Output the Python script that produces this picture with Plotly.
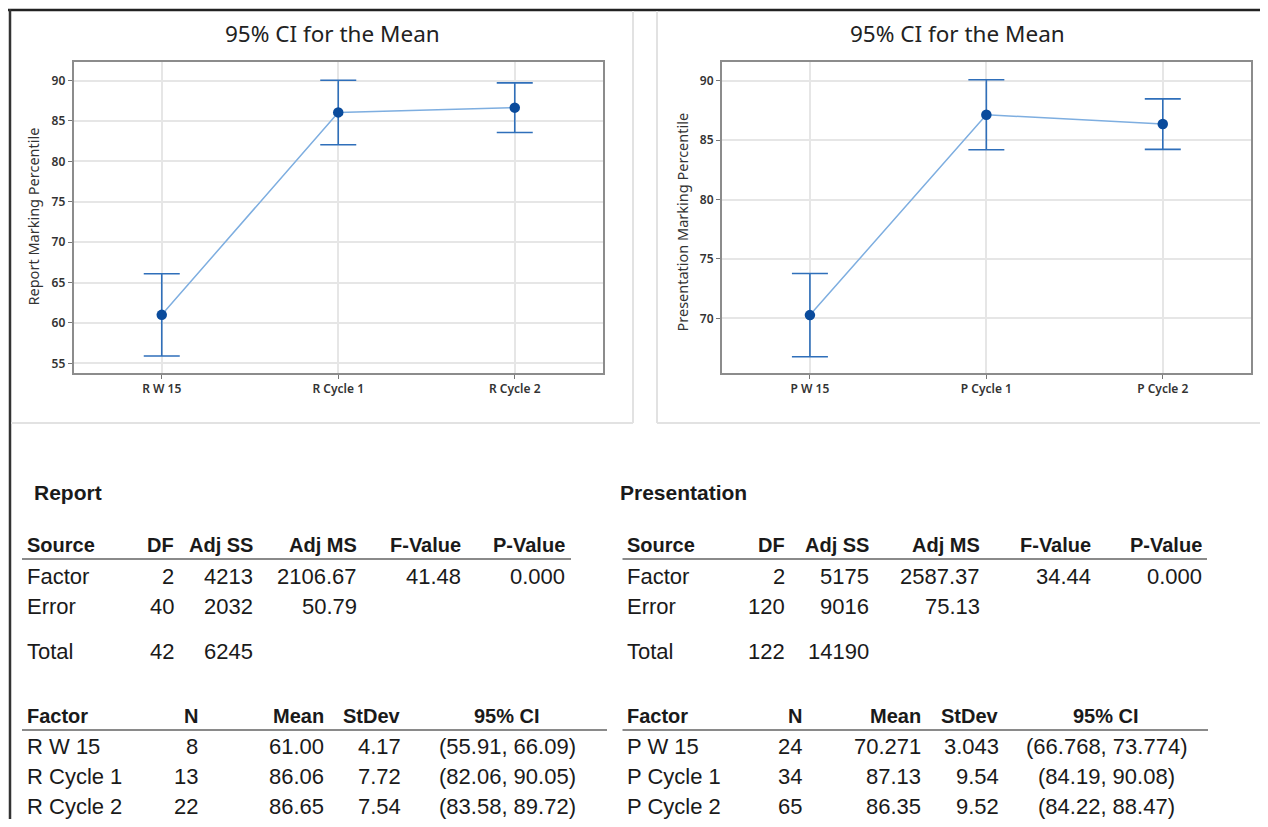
import plotly.graph_objects as go

# page has an 8px body margin, so the figure is drawn offset by 8px
OFF = 8
W, H = 1268 - 2 * OFF, 827 - 2 * OFF

# ---------------- data ----------------
r_groups = ["R W 15", "R Cycle 1", "R Cycle 2"]
r_mean = [61.00, 86.06, 86.65]
r_lo = [55.91, 82.06, 83.58]
r_hi = [66.09, 90.05, 89.72]
r_n = [8, 13, 22]
r_mean_txt = ["61.00", "86.06", "86.65"]
r_sd_txt = ["4.17", "7.72", "7.54"]
r_ci_txt = ["(55.91, 66.09)", "(82.06, 90.05)", "(83.58, 89.72)"]

p_groups = ["P W 15", "P Cycle 1", "P Cycle 2"]
p_mean = [70.271, 87.13, 86.35]
p_lo = [66.768, 84.19, 84.22]
p_hi = [73.774, 90.08, 88.47]
p_n = [24, 34, 65]
p_mean_txt = ["70.271", "87.13", "86.35"]
p_sd_txt = ["3.043", "9.54", "9.52"]
p_ci_txt = ["(66.768, 73.774)", "(84.19, 90.08)", "(84.22, 88.47)"]

anova_cols = ["Source", "DF", "Adj SS", "Adj MS", "F-Value", "P-Value"]
r_anova = [
    ["Factor", "2", "4213", "2106.67", "41.48", "0.000"],
    ["Error", "40", "2032", "50.79", "", ""],
    ["Total", "42", "6245", "", "", ""],
]
p_anova = [
    ["Factor", "2", "5175", "2587.37", "34.44", "0.000"],
    ["Error", "120", "9016", "75.13", "", ""],
    ["Total", "122", "14190", "", "", ""],
]
means_cols = ["Factor", "N", "Mean", "StDev", "95% CI"]

# ---------------- helpers ----------------
def px(x):
    return (x - OFF) / W

def py(y):
    return 1 - (y - OFF) / H

fig = go.Figure()

line_col = "#7eaee0"
err_col = "#2f6fba"
mk_col = "#0a4b9c"

def add_ci(groups, mean, lo, hi, xa, ya):
    fig.add_trace(go.Scatter(
        x=groups, y=mean, mode="lines+markers",
        xaxis=xa, yaxis=ya,
        line=dict(color=line_col, width=1.5),
        marker=dict(color=mk_col, size=10.5, symbol="circle"),
        error_y=dict(type="data", symmetric=False,
                     array=[h - m for h, m in zip(hi, mean)],
                     arrayminus=[m - l for m, l in zip(mean, lo)],
                     color=err_col, thickness=1.6, width=18),
        showlegend=False, hoverinfo="skip",
    ))

add_ci(r_groups, r_mean, r_lo, r_hi, "x", "y")
add_ci(p_groups, p_mean, p_lo, p_hi, "x2", "y2")

tickfont = dict(family="Noto Sans", size=12, color="#333333", weight=600)
ax_common = dict(showline=True, mirror=True, linecolor="#8c8c8c", linewidth=1.5,
                 showgrid=True, gridcolor="#e6e6e6", gridwidth=1.5,
                 ticks="outside", ticklen=4, tickcolor="#777777",
                 tickfont=tickfont, zeroline=False, fixedrange=True)

fig.update_layout(
    width=W, height=H, margin=dict(l=0, r=0, t=0, b=0),
    paper_bgcolor="white", plot_bgcolor="white",
    xaxis=dict(domain=[px(73.5), px(603)], range=[-0.5, 2.5], anchor="y", **ax_common),
    yaxis=dict(domain=[py(373), py(62)], range=[53.8, 92.3], anchor="x",
               tickvals=[55, 60, 65, 70, 75, 80, 85, 90], **ax_common),
    xaxis2=dict(domain=[px(721.7), px(1251)], range=[-0.5, 2.5], anchor="y2", **ax_common),
    yaxis2=dict(domain=[py(373), py(62)], range=[65.4, 91.57], anchor="x2",
                tickvals=[70, 75, 80, 85, 90], **ax_common),
)

ann = []
shapes = []

def text(x, y, s, anchor="left", size=22, bold=False, color="#1a1a1a", family="Liberation Sans", angle=0):
    ann.append(dict(x=px(x), y=py(y), xref="paper", yref="paper", text=s,
                    showarrow=False, xanchor=anchor, yanchor="middle", textangle=angle,
                    font=dict(family=family, size=size, color=color,
                              weight=700 if bold else 400)))

def hline(x0, x1, y, color="#8a8a8a", w=2):
    shapes.append(dict(type="line", xref="paper", yref="paper",
                       x0=px(x0), x1=px(x1), y0=py(y), y1=py(y),
                       line=dict(color=color, width=w)))

def vline(x, y0, y1, color, w=2):
    shapes.append(dict(type="line", xref="paper", yref="paper",
                       x0=px(x), x1=px(x), y0=py(y0), y1=py(y1),
                       line=dict(color=color, width=w)))

# chart titles and axis titles
text(332.5, 33, "95% CI for the Mean", anchor="center", size=22.5, color="#222222", family="Noto Sans")
text(957, 33, "95% CI for the Mean", anchor="center", size=22.5, color="#222222", family="Noto Sans")
text(32.5, 217, "Report Marking Percentile", anchor="center", size=14.5, color="#333333", family="Noto Sans", angle=-90)
text(681.5, 222, "Presentation Marking Percentile", anchor="center", size=14.5, color="#333333", family="Noto Sans", angle=-90)

# frame lines
hline(8, 1268, 10, color="#222222", w=2.5)
vline(10, 9, 827, "#333333", w=2.5)
vline(633, 11, 423, "#e2e2e2", w=2)
vline(657, 11, 423, "#e2e2e2", w=2)
hline(11, 633, 423, color="#e2e2e2", w=2)
hline(657, 1268, 423, color="#e2e2e2", w=2)

def anova_table(x_left, col_right, title_x, title, rows, line_end):
    text(title_x, 492, title, size=21, bold=True)
    text(x_left, 545, anova_cols[0], size=20, bold=True)
    for c, xr in zip(anova_cols[1:], col_right):
        text(xr, 545, c, anchor="right", size=20, bold=True)
    hline(x_left - 2.5, line_end, 559)
    for row, yy in zip(rows, [576, 606, 651]):
        text(x_left, yy, row[0], size=22)
        for v, xr in zip(row[1:], col_right):
            if v:
                text(xr, yy, v, anchor="right", size=22)

def means_table(x_left, col_right, ci_center, groups, n, mtxt, sdtxt, citxt, line_end):
    text(x_left, 716, means_cols[0], size=20, bold=True)
    for c, xr in zip(means_cols[1:4], col_right):
        text(xr, 716, c, anchor="right", size=20, bold=True)
    text(ci_center, 716, means_cols[4], anchor="center", size=20, bold=True)
    hline(x_left - 2.5, line_end, 730)
    for i, yy in enumerate([746, 776, 806]):
        text(x_left, yy, groups[i], size=22)
        text(col_right[0], yy, str(n[i]), anchor="right", size=22)
        text(col_right[1], yy, mtxt[i], anchor="right", size=22)
        text(col_right[2], yy, sdtxt[i], anchor="right", size=22)
        text(ci_center, yy, citxt[i], anchor="center", size=22)

anova_table(24.5, [176, 255, 359, 463, 567], 32, "Report", r_anova, 571)
anova_table(625, [787, 871, 982, 1093, 1204], 617.5, "Presentation", p_anova, 1207)
means_table(24.5, [200, 326, 403], 507, r_groups, r_n, r_mean_txt, r_sd_txt, r_ci_txt, 607)
means_table(625, [804, 923, 1001], 1106, p_groups, p_n, p_mean_txt, p_sd_txt, p_ci_txt, 1208)

fig.update_layout(annotations=ann, shapes=shapes)
fig.write_html("out.html")
